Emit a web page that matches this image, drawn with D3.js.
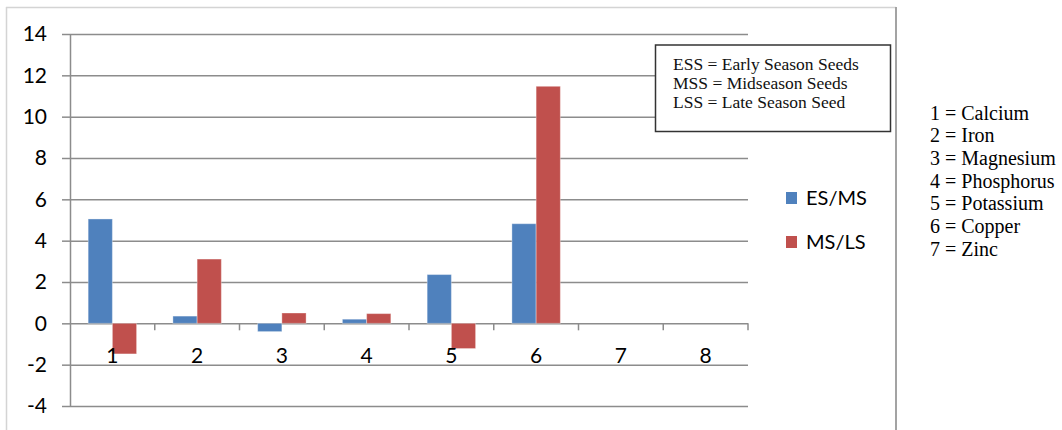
<!DOCTYPE html>
<html>
<head>
<meta charset="utf-8">
<script src="https://cdn.jsdelivr.net/npm/d3@7"></script>
<style>
  html, body { margin: 0; padding: 0; background: #fff; }
  svg { display: block; }
</style>
</head>
<body>
<svg id="chart" width="1062" height="430"></svg>
<script>
// Element index along the x axis
const categories = ["1", "2", "3", "4", "5", "6", "7", "8"];
// Ratios between seed seasons (no values for 7 and 8)
const esMs = [5.05, 0.35, -0.4, 0.2, 2.36, 4.82, null, null];
const msLs = [-1.48, 3.11, 0.5, 0.47, -1.22, 11.47, null, null];
const seriesNames = ["ES/MS", "MS/LS"];
const seriesColors = ["#4f81bd", "#c0504d"];
const yTicks = [-4, -2, 0, 2, 4, 6, 8, 10, 12, 14];
const boxLines = ["ESS = Early Season Seeds", "MSS = Midseason Seeds", "LSS = Late Season Seed"];
const elementKey = ["1 = Calcium", "2 = Iron", "3 = Magnesium", "4 = Phosphorus", "5 = Potassium", "6 = Copper", "7 = Zinc"];

const svg = d3.select("#chart");
const plot = { left: 70, right: 748, top: 34, bottom: 406 };
const SANS = '"Lato"';
const SERIF = '"Times New Roman"';

// Outer chart frame
svg.append("line").attr("x1", 6.5).attr("x2", 6.5).attr("y1", 7).attr("y2", 440)
  .attr("stroke", "#d4d4d4").attr("stroke-width", 1.5);
svg.append("line").attr("x1", 6).attr("x2", 896).attr("y1", 7.5).attr("y2", 7.5)
  .attr("stroke", "#d4d4d4").attr("stroke-width", 1.5);
svg.append("line").attr("x1", 896).attr("x2", 896).attr("y1", 7).attr("y2", 440)
  .attr("stroke", "#a3a3a3").attr("stroke-width", 2);

const y = d3.scaleLinear().domain([-4, 14]).range([plot.bottom, plot.top]);
const x = d3.scaleBand().domain(categories).range([plot.left, plot.right])
  .paddingInner(1.5 / 3.5).paddingOuter(0.75 / 3.5);
const xs = d3.scaleBand().domain(seriesNames).range([0, x.bandwidth()]);
const step = x.step();

// Horizontal gridlines
const grid = svg.append("g").attr("transform", `translate(${plot.left},0)`)
  .call(d3.axisLeft(y).tickValues(yTicks).tickSize(-(plot.right - plot.left)).tickFormat(""));
grid.select(".domain").remove();
grid.selectAll("line").attr("stroke", "#8c8c8c").attr("stroke-width", 1.5);

// Vertical axis with labels (plain hyphen for negatives)
const yAxis = svg.append("g").attr("transform", `translate(${plot.left},0)`)
  .call(d3.axisLeft(y).tickValues(yTicks).tickSize(8).tickSizeOuter(0).tickPadding(15)
    .tickFormat(d => String(d)));
yAxis.attr("font-family", null).attr("font-size", null);
yAxis.select(".domain").attr("stroke", "#8c8c8c").attr("stroke-width", 1.5);
yAxis.selectAll(".tick line").attr("stroke", "#8c8c8c").attr("stroke-width", 1.5);
yAxis.selectAll("text").style("font-family", SANS).attr("font-size", 21).attr("fill", "#000");

// Category boundary ticks on the zero line
const boundaries = d3.range(categories.length + 1).map(i => plot.left + i * step);
svg.append("g").selectAll("line").data(boundaries.slice(1)).join("line")
  .attr("x1", d => d).attr("x2", d => d)
  .attr("y1", y(0)).attr("y2", y(0) + 7)
  .attr("stroke", "#8c8c8c").attr("stroke-width", 1.5);

// Bars
const rows = categories.map((c, i) => ({ cat: c, vals: [esMs[i], msLs[i]] }));
const groups = svg.append("g").selectAll("g").data(rows).join("g")
  .attr("transform", d => `translate(${x(d.cat)},0)`);
groups.selectAll("rect")
  .data(d => d.vals.map((v, j) => ({ name: seriesNames[j], v, j })).filter(e => e.v !== null))
  .join("rect")
  .attr("x", e => xs(e.name))
  .attr("width", xs.bandwidth())
  .attr("y", e => y(Math.max(0, e.v)))
  .attr("height", e => Math.abs(y(e.v) - y(0)))
  .attr("fill", e => seriesColors[e.j])
  .attr("stroke", "#ffffff").attr("stroke-opacity", 0.35).attr("stroke-width", 1);

// Category labels
svg.append("g").selectAll("text").data(categories).join("text")
  .attr("x", d => x(d) + x.bandwidth() / 2)
  .attr("y", 363)
  .attr("text-anchor", "middle")
  .style("font-family", SANS).attr("font-size", 21).attr("fill", "#000")
  .text(d => d);

// Abbreviation box
svg.append("rect").attr("x", 655.5).attr("y", 45).attr("width", 235).attr("height", 86.5)
  .attr("fill", "#fff").attr("stroke", "#333").attr("stroke-width", 1.5);
svg.append("g").selectAll("text").data(boxLines).join("text")
  .attr("x", 673).attr("y", (d, i) => 70 + i * 19)
  .style("font-family", SERIF).attr("font-size", 17.5).attr("fill", "#111")
  .text(d => d);

// Series legend
const legend = svg.append("g").selectAll("g").data(seriesNames).join("g")
  .attr("transform", (d, i) => `translate(786,${198 + i * 44})`);
legend.append("rect").attr("x", 0).attr("y", -6).attr("width", 11).attr("height", 12)
  .attr("fill", (d, i) => seriesColors[i]);
legend.append("text").attr("x", 20).attr("y", 0).attr("dy", "0.36em")
  .style("font-family", SANS).attr("font-size", 20).attr("fill", "#000")
  .text(d => d);

// Element key
svg.append("g").selectAll("text").data(elementKey).join("text")
  .attr("x", 930).attr("y", (d, i) => 119.5 + i * 22.7)
  .style("font-family", SERIF).attr("font-size", 20).attr("fill", "#000")
  .text(d => d);
</script>
</body>
</html>
